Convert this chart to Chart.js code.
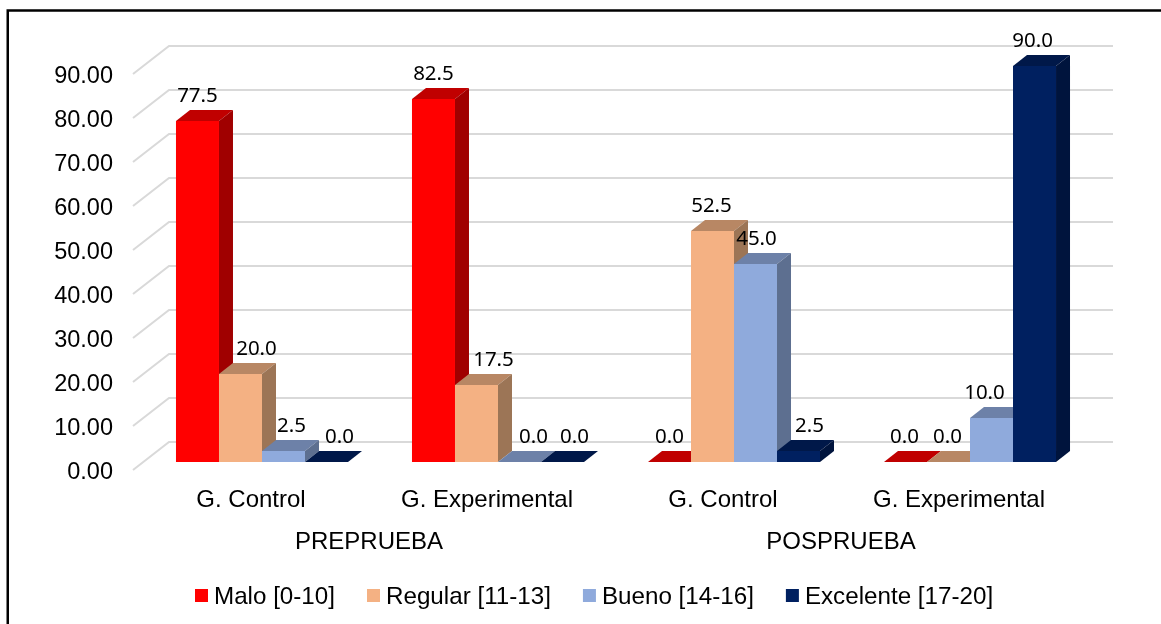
<!DOCTYPE html>
<html lang="es">
<head>
    <meta charset="UTF-8">
    <title>Prueba - niveles</title>
    <script src="https://cdn.jsdelivr.net/npm/chart.js"></script>
    <style>
        html, body { margin: 0; padding: 0; background: #fff; overflow: hidden; }
        canvas { display: block; }
    </style>
</head>
<body>
    <canvas id="chart" width="1161" height="624"></canvas>

    <script>
        const categories = ['G. Control', 'G. Experimental', 'G. Control', 'G. Experimental'];
        const stages = ['PREPRUEBA', 'POSPRUEBA'];
        const malo = [77.5, 82.5, 0, 0];
        const regular = [20, 17.5, 52.5, 0];
        const bueno = [2.5, 0, 45, 10];
        const excelente = [0, 0, 2.5, 90];

        // hand-moved labels in the original, dx per series / category
        const labelNudge = [
            [0, 0, 0, -1],
            [16, 17, -1, -1],
            [8, 14, 1, -7],
            [13, 12, 11, -2]
        ];

        // front colour, top face, side face
        const colors = [
            ['#FF0000', '#C00000', '#A00000'],
            ['#F4B183', '#B88764', '#9C7556'],
            ['#8FAADC', '#6D81A8', '#5D6F90'],
            ['#002060', '#001849', '#00143D']
        ];

        const textFont = '"Liberation Sans", Arial, sans-serif';
        const fontSize = 24;

        // depth of a bar, and of the floor from the bar plane
        const barDx = 14, barDy = 11;
        const backDx = 25, backDy = 20;
        const frontDx = -11, frontDy = 8;

        const depthPlugin = {
            id: 'depth',
            beforeDraw(chart) {
                const ctx = chart.ctx;
                ctx.save();
                ctx.strokeStyle = '#000';
                ctx.lineWidth = 2.5;
                ctx.beginPath();
                ctx.moveTo(7.75, 624);
                ctx.lineTo(7.75, 10.5);
                ctx.lineTo(1161, 10.5);
                ctx.stroke();
                ctx.restore();
            },
            beforeDatasetsDraw(chart) {
                const ctx = chart.ctx;
                const area = chart.chartArea;
                const yScale = chart.scales.y;
                ctx.save();

                // gridlines with the floor/wall diagonal
                ctx.strokeStyle = '#D9D9D9';
                ctx.lineWidth = 2;
                yScale.ticks.forEach(function(t) {
                    const y = yScale.getPixelForValue(t.value);
                    ctx.beginPath();
                    ctx.moveTo(area.left + frontDx, y + frontDy);
                    ctx.lineTo(area.left + backDx, y - backDy);
                    ctx.lineTo(area.right + backDx, y - backDy);
                    ctx.stroke();
                });

                // top and side faces, left to right
                categories.forEach(function(c, i) {
                    chart.data.datasets.forEach(function(ds, d) {
                        const bar = chart.getDatasetMeta(d).data[i];
                        const half = bar.width / 2;
                        const l = bar.x - half, r = bar.x + half;
                        ctx.fillStyle = colors[d][1];
                        ctx.beginPath();
                        ctx.moveTo(l, bar.y);
                        ctx.lineTo(l + barDx, bar.y - barDy);
                        ctx.lineTo(r + barDx, bar.y - barDy);
                        ctx.lineTo(r, bar.y);
                        ctx.closePath();
                        ctx.fill();
                        ctx.fillStyle = colors[d][2];
                        ctx.beginPath();
                        ctx.moveTo(r, bar.y);
                        ctx.lineTo(r + barDx, bar.y - barDy);
                        ctx.lineTo(r + barDx, bar.base - barDy);
                        ctx.lineTo(r, bar.base);
                        ctx.closePath();
                        ctx.fill();
                    });
                });
                ctx.restore();
            },
            afterDatasetsDraw(chart) {
                const ctx = chart.ctx;
                const xScale = chart.scales.x;
                ctx.save();

                // value labels
                ctx.fillStyle = '#000';
                ctx.font = '20.5px "Noto Sans", sans-serif';
                ctx.textAlign = 'center';
                ctx.textBaseline = 'alphabetic';
                chart.data.datasets.forEach(function(ds, d) {
                    chart.getDatasetMeta(d).data.forEach(function(bar, i) {
                        ctx.fillText(ds.data[i].toFixed(1), bar.x + labelNudge[d][i], bar.y - barDy - 8);
                    });
                });

                // second level of the category axis
                ctx.font = fontSize + 'px ' + textFont;
                ctx.textBaseline = 'middle';
                stages.forEach(function(s, i) {
                    const x = xScale.getPixelForValue(i * 2 + 0.5) + frontDx;
                    ctx.fillText(s, x, 542);
                });

                // legend
                ctx.font = '24.2px ' + textFont;
                let widths = chart.data.datasets.map(function(ds) { return ctx.measureText(ds.label).width; });
                const box = 13, boxGap = 6, itemGap = 32;
                let x = 195;
                ctx.textAlign = 'left';
                chart.data.datasets.forEach(function(ds, d) {
                    ctx.fillStyle = ds.backgroundColor;
                    ctx.fillRect(x, 589, box, box);
                    ctx.fillStyle = '#000';
                    ctx.fillText(ds.label, x + box + boxGap, 597);
                    x += box + boxGap + widths[d] + itemGap;
                });
                ctx.restore();
            }
        };

        new Chart(document.getElementById('chart').getContext('2d'), {
            type: 'bar',
            data: {
                labels: categories,
                datasets: [
                    { label: 'Malo [0-10]', data: malo, backgroundColor: colors[0][0] },
                    { label: 'Regular [11-13]', data: regular, backgroundColor: colors[1][0] },
                    { label: 'Bueno [14-16]', data: bueno, backgroundColor: colors[2][0] },
                    { label: 'Excelente [17-20]', data: excelente, backgroundColor: colors[3][0] }
                ]
            },
            options: {
                responsive: false,
                animation: false,
                layout: { padding: { top: 66, right: 73, left: 0, bottom: 0 } },
                datasets: { bar: { categoryPercentage: 0.729, barPercentage: 1, borderWidth: 0 } },
                plugins: {
                    legend: { display: false },
                    tooltip: { enabled: false }
                },
                scales: {
                    x: {
                        grid: { display: false },
                        border: { display: false },
                        afterFit: function(scale) { scale.height = 162; },
                        ticks: {
                            color: '#000',
                            font: { family: textFont, size: fontSize },
                            labelOffset: frontDx,
                            padding: 16,
                            maxRotation: 0,
                            autoSkip: false
                        }
                    },
                    y: {
                        min: 0,
                        max: 90,
                        grid: { display: false, drawTicks: false },
                        border: { display: false },
                        afterFit: function(scale) { scale.width = 144; },
                        ticks: {
                            stepSize: 10,
                            color: '#000',
                            font: { family: textFont, size: 23.5 },
                            labelOffset: 11,
                            padding: 31,
                            callback: function(v) { return v.toFixed(2); }
                        }
                    }
                }
            },
            plugins: [depthPlugin]
        });
    </script>
</body>
</html>
